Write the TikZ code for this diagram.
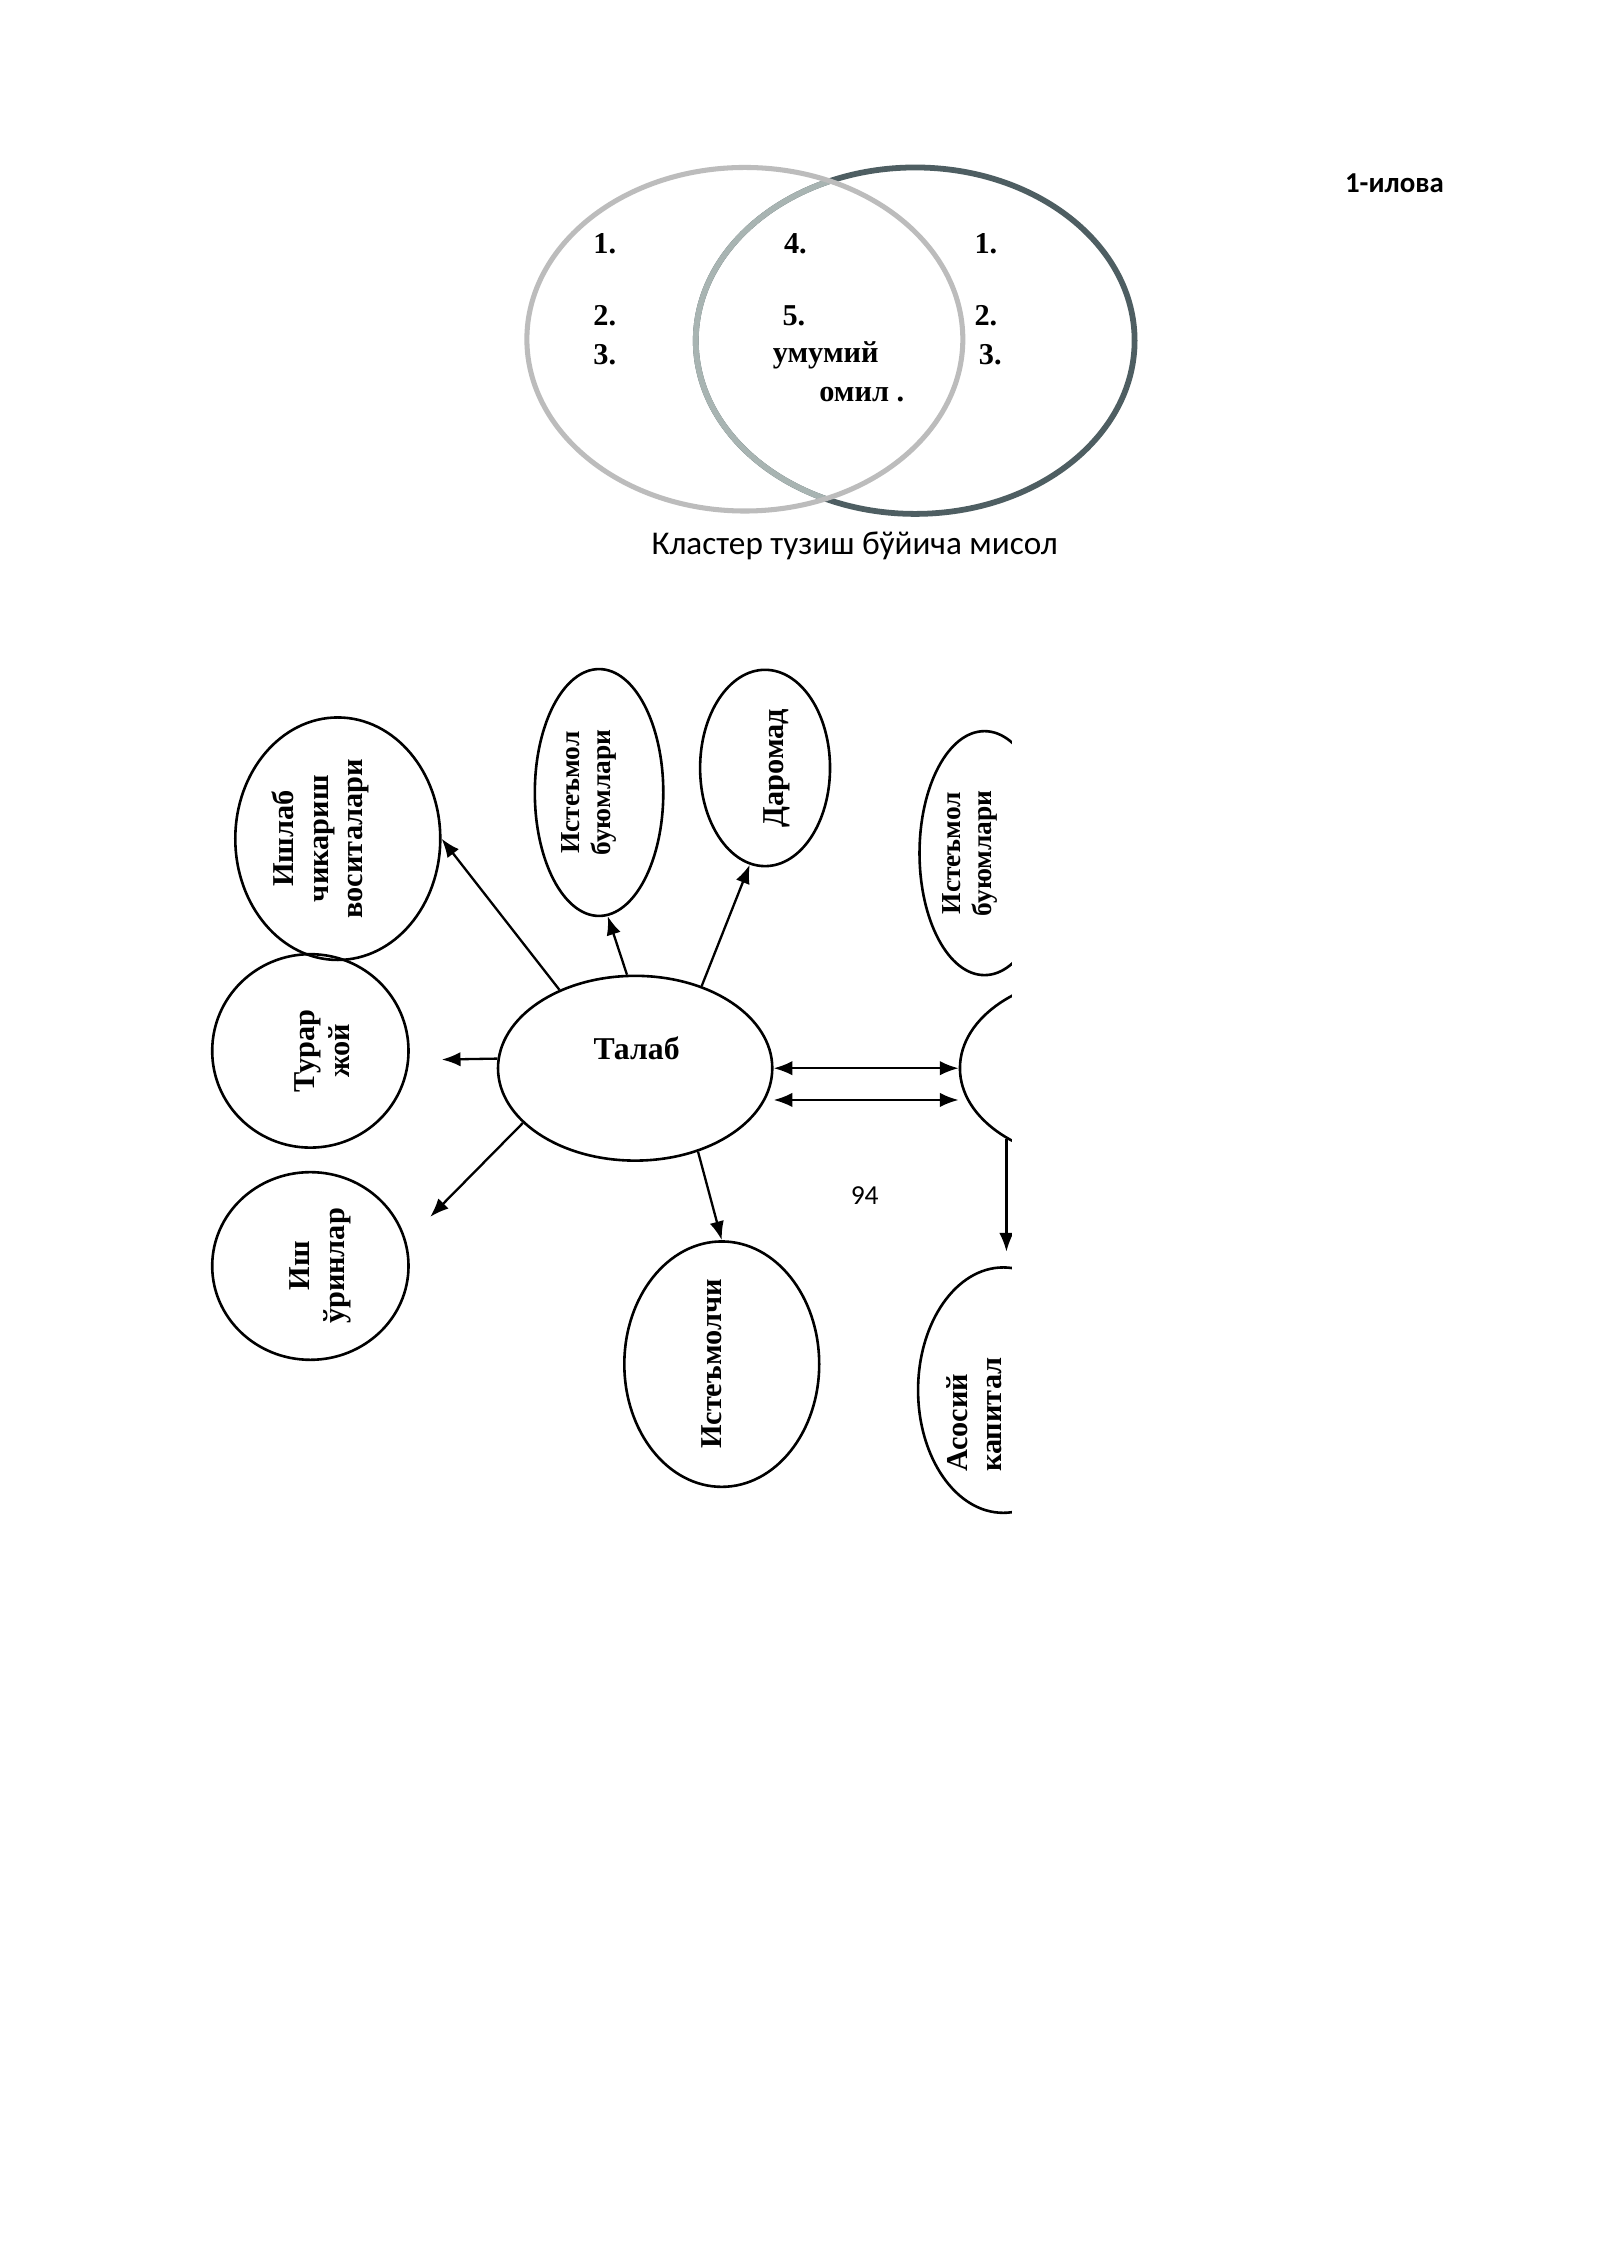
\documentclass[tikz,border=0pt]{standalone}
\usepackage{fontspec}
\setmainfont{Liberation Serif}
\newfontfamily\calibri{Carlito}
\usetikzlibrary{shapes.geometric,arrows.meta}
\definecolor{vennlight}{RGB}{188,188,188}
\definecolor{venndark}{RGB}{78,94,98}
\definecolor{vennmid}{RGB}{168,180,178}

\begin{document}
\begin{tikzpicture}[x=1pt,y=-1pt,
    bubble/.style={ellipse,draw,line width=1.8pt,inner sep=0pt},
    lbl/.style={rotate=90,align=center,font=\fontsize{21}{24}\selectfont\bfseries},
    lblsmall/.style={rotate=90,align=center,font=\fontsize{19}{22}\selectfont\bfseries},
    num/.style={font=\fontsize{21}{24}\selectfont\bfseries},
    arr/.style={-{Latex[length=13pt,width=10pt]},line width=1.6pt},
    darr/.style={{Latex[length=13pt,width=10pt]}-{Latex[length=13pt,width=10pt]},line width=1.6pt}]
      \fill [white] (0,0) rectangle (1108,1567);
      \node (ilova) at (966,127) [font=\calibri\fontsize{20}{24}\selectfont\bfseries] {1-илова};
      % venn
      \draw [venndark,line width=4pt] (634,236) ellipse [x radius=152,y radius=120];
      \begin{scope}
        \clip (516,235) ellipse [x radius=151,y radius=119];
        \draw [vennmid,line width=4pt] (634,236) ellipse [x radius=152,y radius=120];
      \end{scope}
      \draw [vennlight,line width=3.5pt] (516,235) ellipse [x radius=151,y radius=119];
      \node (a1) at (419,169) [num] {1.};
      \node (a2) at (419,219) [num] {2.};
      \node (a3) at (419,246) [num] {3.};
      \node (c4) at (551,169) [num] {4.};
      \node (c5) at (550,219) [num] {5.};
      \node (cumum) at (572,246) [num] {умумий};
      \node (comil) at (597,273) [num] {омил .};
      \node (b1) at (683,169) [num] {1.};
      \node (b2) at (683,219) [num] {2.};
      \node (b3) at (686,246) [num] {3.};
      \node (caption) at (592,378) [font=\calibri\fontsize{23}{27}\selectfont] {Кластер тузиш бўйича мисол};
      % cluster
      \begin{scope}
        \clip (100,440) rectangle (701,1070);
        \node (ishlab) at (234,581) [bubble,minimum width=142pt,minimum height=168pt] {};
        \node (ishlabtxt) at (222,581) [lbl] {Ишлаб\\чикариш\\воситалари};
        \node (buyum) at (415,549) [bubble,minimum width=89pt,minimum height=171pt] {};
        \node (buyumtxt) at (408,549) [lblsmall] {Истеъмол\\буюмлари};
        \node (daromad) at (530,532) [bubble,minimum width=90pt,minimum height=136pt] {};
        \node (daromadtxt) at (538,532) [lbl] {Даромад};
        \node (buyumb) at (682,591) [bubble,minimum width=90pt,minimum height=169pt] {};
        \node (buyumbtxt) at (672,591) [lblsmall] {Истеъмол\\буюмлари};
        \node (talab) at (440,740) [bubble,minimum width=190pt,minimum height=128pt] {};
        \node (talabtxt) at (441,726) [font=\fontsize{22}{26}\selectfont\bfseries] {Талаб};
        \node (turar) at (215,728) [bubble,minimum width=136pt,minimum height=134pt] {};
        \node (turartxt) at (223,728) [lbl] {Турар\\жой};
        \node (ish) at (215,877) [bubble,minimum width=136pt,minimum height=130pt] {};
        \node (ishtxt) at (222,877) [lbl] {Иш\\ўринлар};
        \node (istemolchi) at (500,945) [bubble,minimum width=135pt,minimum height=170pt] {};
        \node (istemolchitxt) at (493,945) [lbl] {Истеъмолчи};
        \node (markaz) at (760,740) [bubble,minimum width=190pt,minimum height=128pt] {};
        \node (asosiy) at (695,963) [bubble,minimum width=118pt,minimum height=170pt] {};
        \node (asosiytxt) at (675,980) [lbl,align=left] {Асосий\\капитал};
        \coordinate (turarend) at (306,734);
        \coordinate (ishend) at (298,843);
        \draw [arr](talab.134)--(ishlab.east);
        \draw [arr](talab.95)--(buyum.-86);
        \draw [arr](talab.51)--(daromad.-99);
        \draw [arr](talab.176)--(turarend);
        \draw [arr](talab.206)--(ishend);
        \draw [arr](talab.-53)--(istemolchi.north);
        \draw [darr](talab.east)--(markaz.west);
        \draw [darr]([yshift=-22pt]talab.east)--([yshift=-22pt]markaz.west);
        \draw [arr,shorten >=10pt](markaz.218)--(markaz.218 |- asosiy.north);
      \end{scope}
      \node (page) at (599,828) [font=\calibri\fontsize{19}{22}\selectfont] {94};
    \end{tikzpicture}
\end{document}
